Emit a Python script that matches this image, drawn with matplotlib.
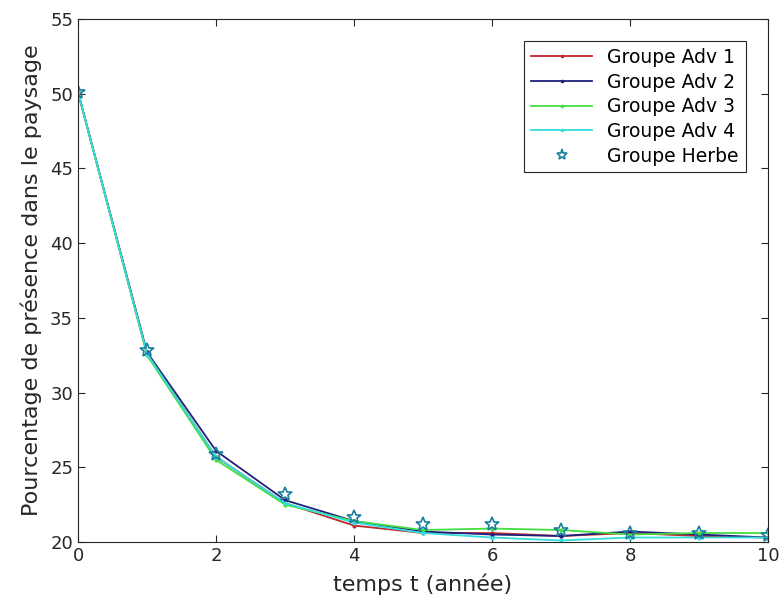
import matplotlib
matplotlib.use('Agg')
import matplotlib.pyplot as plt

# Data
t = [0, 1, 2, 3, 4, 5, 6, 7, 8, 9, 10]
adv1 = [50.1, 32.6, 25.7, 22.6, 21.1, 20.6, 20.6, 20.4, 20.6, 20.4, 20.3]
adv2 = [50.1, 32.7, 26.1, 22.8, 21.4, 20.7, 20.5, 20.4, 20.7, 20.5, 20.3]
adv3 = [50.1, 32.5, 25.5, 22.5, 21.4, 20.8, 20.9, 20.8, 20.5, 20.6, 20.6]
adv4 = [50.1, 32.6, 25.7, 22.6, 21.3, 20.6, 20.3, 20.1, 20.3, 20.3, 20.3]
herbe = [50.1, 32.85, 25.9, 23.2, 21.7, 21.2, 21.2, 20.8, 20.6, 20.6, 20.5]

labels = ['Groupe Adv 1', 'Groupe Adv 2', 'Groupe Adv 3', 'Groupe Adv 4', 'Groupe Herbe']

plt.rcParams['font.family'] = 'DejaVu Sans'

fig = plt.figure(figsize=(7.84, 6.12), dpi=100)
ax = fig.add_axes([0.0995, 0.1144, 0.8801, 0.8546])

ax.plot(t, adv1, '.-', color='#c0282a', lw=1.3, ms=4, label=labels[0])
ax.plot(t, adv2, '.-', color='#20207a', lw=1.3, ms=4, label=labels[1])
ax.plot(t, adv3, '.-', color='#44dd44', lw=1.3, ms=4, label=labels[2])
ax.plot(t, adv4, '.-', color='#33dddd', lw=1.3, ms=4, label=labels[3])
ax.plot(t, herbe, '*', color='#1a7fa0', mfc='none', mew=1.2, ms=10,
        linestyle='none', label=labels[4])

ax.set_xlim(0, 10)
ax.set_ylim(20, 55)
ax.set_xticks([0, 2, 4, 6, 8, 10])
ax.set_yticks([20, 25, 30, 35, 40, 45, 50, 55])
ax.tick_params(direction='in', top=True, right=True, labelsize=13,
               length=5, colors='#262626')
for s in ax.spines.values():
    s.set_color('#262626')

ax.set_xlabel('temps t (année)', fontsize=16, color='#262626', labelpad=6)
ax.set_ylabel('Pourcentage de présence dans le paysage', fontsize=16,
              color='#262626', labelpad=6)

leg = ax.legend(loc='upper right', fontsize=13.5, fancybox=False, edgecolor='#262626',
                framealpha=1, borderaxespad=1.2, handlelength=3.3, labelspacing=0.3,
                borderpad=0.35, markerscale=0.8)
leg.get_frame().set_linewidth(0.8)

plt.savefig('out.png', dpi=100)
